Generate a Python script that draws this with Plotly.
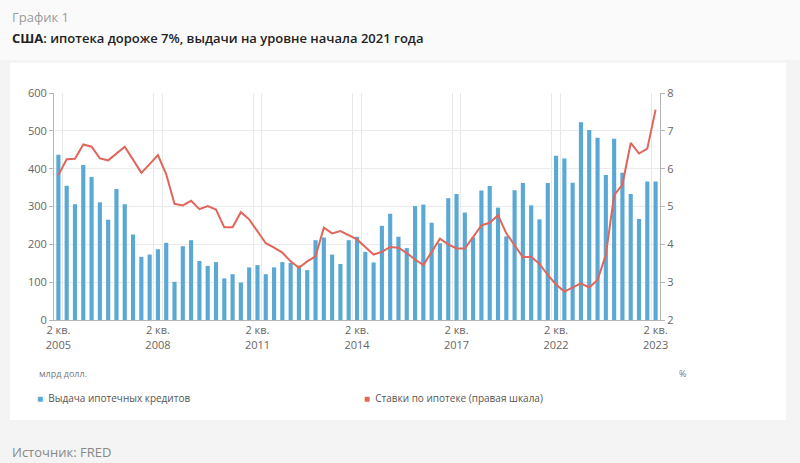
import plotly.graph_objects as go

# ---- data ----
quarters = list(range(73))  # quarterly index, 2 кв. 2005 ... 2 кв. 2023
issuance = [437, 355, 306, 410, 378, 311, 265, 346, 306, 226,
            167, 173, 187, 204, 101, 195, 211, 156, 143, 153,
            110, 121, 99, 139, 145, 121, 139, 153, 151, 144,
            132, 211, 218, 173, 148, 211, 220, 180, 152, 249,
            281, 220, 190, 301, 305, 257, 203, 322, 333, 284,
            218, 342, 354, 297, 221, 343, 362, 303, 266, 362,
            434, 427, 363, 523, 502, 482, 383, 479, 389, 333,
            267, 366, 366]
rates = [5.83, 6.25, 6.26, 6.64, 6.58, 6.27, 6.22, 6.40, 6.58, 6.24,
         5.89, 6.12, 6.36, 5.85, 5.07, 5.03, 5.15, 4.93, 5.01, 4.92,
         4.45, 4.45, 4.85, 4.66, 4.36, 4.03, 3.91, 3.78, 3.55, 3.38,
         3.55, 3.68, 4.44, 4.29, 4.35, 4.24, 4.13, 3.93, 3.73, 3.80,
         3.93, 3.91, 3.77, 3.60, 3.45, 3.80, 4.15, 4.00, 3.89, 3.89,
         4.20, 4.50, 4.57, 4.77, 4.29, 3.98, 3.66, 3.67, 3.48, 3.19,
         2.94, 2.75, 2.85, 2.97, 2.86, 3.06, 3.72, 5.30, 5.58, 6.68,
         6.40, 6.53, 7.56]
tick_pos = [0, 12, 24, 36, 48, 60, 72]
tick_labels = ["2 кв.<br>2005", "2 кв.<br>2008", "2 кв.<br>2011", "2 кв.<br>2014",
               "2 кв.<br>2017", "2 кв.<br>2022", "2 кв.<br>2023"]
left_ticks = [0, 100, 200, 300, 400, 500, 600]
right_ticks = [2, 3, 4, 5, 6, 7, 8]

BAR = "#5aa8d4"
LINE = "#e0665c"
FONT = "Open Sans"

W, H = 800, 463
ML, MR, MT, MB = 54, 140, 93, 143

def px(x):
    return (x - ML) / (W - ML - MR)

def py(y):
    return (H - MB - y) / (H - MT - MB)

fig = go.Figure()
fig.add_trace(go.Bar(x=quarters, y=issuance, marker_color=BAR, marker_line_width=0,
                     name="Выдача ипотечных кредитов", yaxis="y"))
fig.add_trace(go.Scatter(x=quarters, y=rates, mode="lines", line=dict(color=LINE, width=2),
                         name="Ставки по ипотеке (правая шкала)", yaxis="y2"))

minor_vals = []
for t in tick_pos:
    minor_vals += [t - 0.53, t + 0.53]

fig.update_layout(
    width=W, height=H,
    margin=dict(l=ML, r=MR, t=MT, b=MB),
    paper_bgcolor="#f4f4f4", plot_bgcolor="white",
    showlegend=False, bargap=0.5,
    font=dict(family=FONT, color="#666", size=11),
    xaxis=dict(range=[-0.53, 72.53], tickvals=tick_pos, ticktext=tick_labels,
               showgrid=False, showline=True, linecolor="#b5b5b5", linewidth=1,
               ticks="", tickfont=dict(size=11, color="#666"), zeroline=False,
               minor=dict(tickvals=minor_vals, showgrid=True, gridcolor="#e8e8e8", gridwidth=1, ticks="")),
    yaxis=dict(range=[0, 600], tickvals=left_ticks, showgrid=True, gridcolor="#ebebeb",
               showline=True, linecolor="#b5b5b5", ticks="outside", ticklen=4, tickcolor="#b5b5b5",
               zeroline=False, tickfont=dict(size=11, color="#666")),
    yaxis2=dict(range=[2, 8], tickvals=right_ticks, overlaying="y", side="right", showgrid=False,
                showline=True, linecolor="#b5b5b5", ticks="outside", ticklen=4, tickcolor="#b5b5b5",
                zeroline=False, tickfont=dict(size=11, color="#666")),
)

# card background
fig.add_shape(type="rect", xref="paper", yref="paper", layer="below",
              x0=px(10), x1=px(786), y0=py(420), y1=py(63),
              fillcolor="white", line=dict(width=0))
fig.add_shape(type="rect", xref="paper", yref="paper", layer="below",
              x0=px(0), x1=px(800), y0=py(60), y1=py(0),
              fillcolor="#fafafa", line=dict(width=0))

ann = [
    dict(text="График 1", x=px(10), y=py(17), size=13, color="#9a9a9a", weight=400),
    dict(text="<b>США</b>: ипотека дороже 7%, выдачи на уровне начала 2021 года", x=px(10), y=py(38), size=13, color="#222", weight=600),
    dict(text="млрд долл.", x=px(37), y=py(373), size=9, color="#777", weight=400),
    dict(text="%", x=px(677), y=py(373), size=9, color="#777", weight=400),
    dict(text="<span style='color:%s'>■</span>  Выдача ипотечных кредитов" % BAR, x=px(35), y=py(398), size=10, color="#555", weight=400),
    dict(text="<span style='color:%s'>■</span>  Ставки по ипотеке (правая шкала)" % LINE, x=px(362), y=py(398), size=10, color="#555", weight=400),
    dict(text="Источник: FRED", x=px(10), y=py(452), size=13, color="#888", weight=400),
]
for a in ann:
    fig.add_annotation(text=a["text"], x=a["x"], y=a["y"], xref="paper", yref="paper",
                       xanchor="left", yanchor="middle", showarrow=False,
                       font=dict(size=a["size"], color=a["color"], family=FONT, weight=a["weight"]))

fig.write_html("out.html")
